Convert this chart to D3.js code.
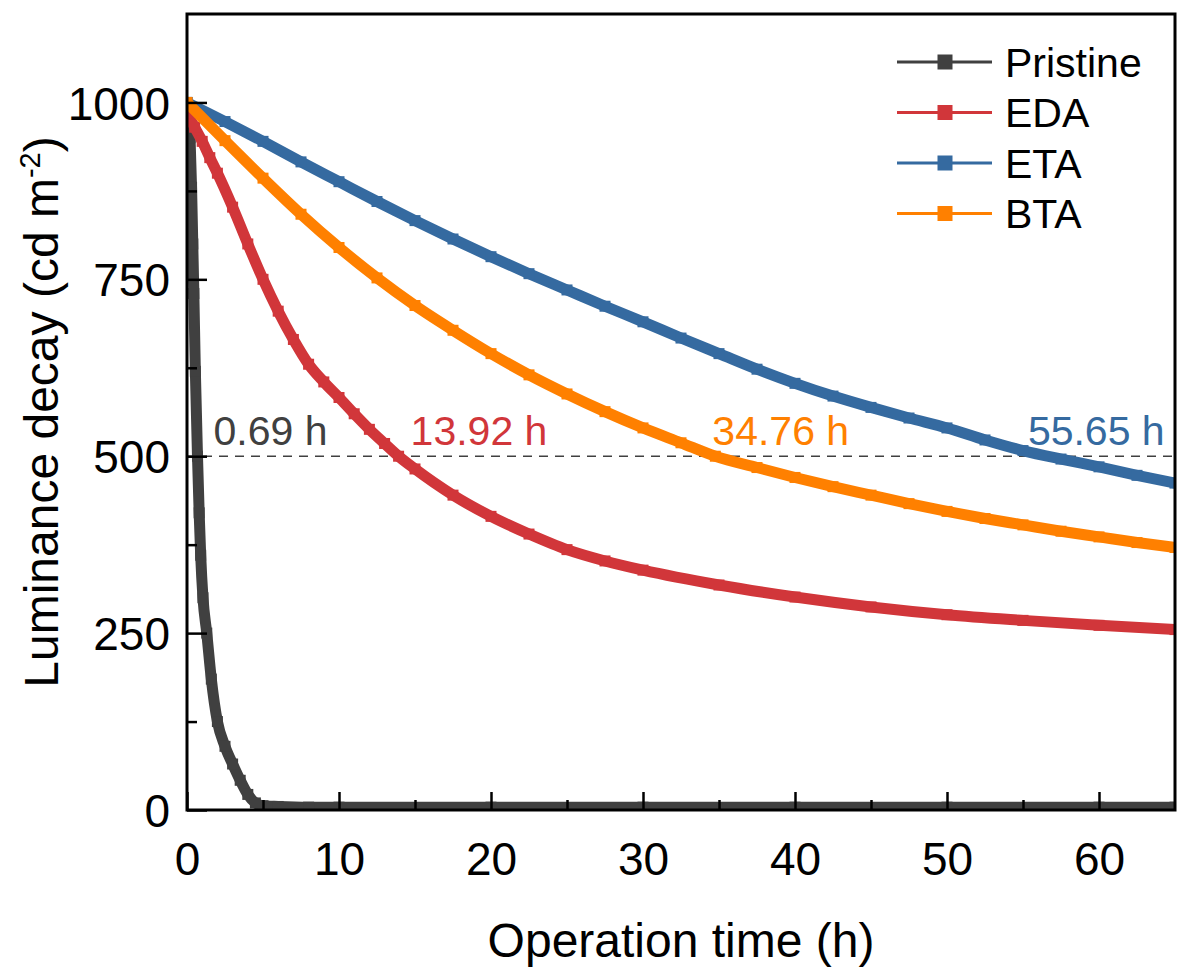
<!DOCTYPE html>
<html>
<head>
<meta charset="utf-8">
<script src="https://cdn.jsdelivr.net/npm/d3@7"></script>
<style>
  body { margin: 0; background: #fff; }
  text { font-family: Arial, "Liberation Sans", sans-serif; }
</style>
</head>
<body>
<div id="chart"></div>
<script>
// series data (time in h, luminance in cd m-2)
var pristineTime = [0, 0.2, 0.3, 0.38, 0.45, 0.55, 0.69, 0.8, 0.9, 1.05, 1.3, 1.6, 2.0, 2.5, 3.0, 3.5, 4.0, 4.5, 5, 6, 8, 10, 20, 30, 40, 50, 60, 65];
var pristineLum  = [1000, 950, 880, 800, 730, 620, 500, 420, 360, 300, 250, 185, 125, 90, 65, 42, 22, 10, 6, 5, 4, 4, 4, 4, 4, 4, 4, 4];

var edaTime = [0, 0.5, 1, 1.5, 2, 3, 4, 5, 6, 7, 8, 9, 10, 11, 12, 13, 13.92, 15, 17.5, 20, 22.5, 25, 27.5, 30, 35, 40, 45, 50, 55, 60, 65];
var edaLum  = [985, 965, 945, 922, 900, 852, 800, 750, 705, 665, 630, 605, 583, 560, 538, 518, 500, 482, 445, 415, 390, 368, 352, 339, 318, 301, 287, 276, 268, 261, 255];

var etaTime = [0, 2.5, 5, 7.5, 10, 12.5, 15, 17.5, 20, 22.5, 25, 27.5, 30, 32.5, 35, 37.5, 40, 42.5, 45, 47.5, 50, 52.5, 55, 57.5, 60, 62.5, 65];
var etaLum  = [1000, 973, 945, 916, 888, 860, 833, 807, 782, 758, 735, 712, 690, 667, 645, 623, 603, 585, 569, 554, 540, 523, 508, 496, 485, 473, 462];

var btaTime = [0, 2.5, 5, 7.5, 10, 12.5, 15, 17.5, 20, 22.5, 25, 27.5, 30, 32.5, 34.76, 37.5, 40, 42.5, 45, 47.5, 50, 52.5, 55, 57.5, 60, 62.5, 65];
var btaLum  = [1000, 946, 893, 842, 795, 752, 713, 678, 645, 615, 588, 563, 540, 519, 500, 484, 470, 457, 445, 433, 422, 412, 403, 394, 386, 378, 371];

var seriesNames = ["Pristine", "EDA", "ETA", "BTA"];
var seriesColors = ["#404040", "#d1363a", "#356aa0", "#ff8000"];

var halfLifeHours = [0.69, 13.92, 34.76, 55.65];
var halfLifeLabels = ["0.69 h", "13.92 h", "34.76 h", "55.65 h"];
var halfLifeColors = ["#404040", "#d1363a", "#ff8000", "#356aa0"];

var xTicks = [0, 10, 20, 30, 40, 50, 60];
var yTicks = [0, 250, 500, 750, 1000];

var width = 1177, height = 969;
var margin = { top: 14, right: 2, bottom: 159, left: 187 };
var plotW = width - margin.left - margin.right;
var plotH = height - margin.top - margin.bottom;

var svg = d3.select("#chart").append("svg")
    .attr("width", width)
    .attr("height", height);

var g = svg.append("g")
    .attr("transform", "translate(" + margin.left + "," + margin.top + ")");

var x = d3.scaleLinear().domain([0, 65]).range([0, plotW]);
var y = d3.scaleLinear().domain([0, 1125]).range([plotH, 0]);

g.append("clipPath").attr("id", "clip")
    .append("rect").attr("width", plotW).attr("height", plotH);

// dashed half-luminance line
g.append("line")
    .attr("x1", 0).attr("x2", plotW)
    .attr("y1", y(500)).attr("y2", y(500))
    .attr("stroke", "#404040")
    .attr("stroke-width", 1.6)
    .attr("stroke-dasharray", "9,7");

var series = [
    { name: "Pristine", t: pristineTime, v: pristineLum },
    { name: "EDA", t: edaTime, v: edaLum },
    { name: "ETA", t: etaTime, v: etaLum },
    { name: "BTA", t: btaTime, v: btaLum }
];

var line = d3.line()
    .x(function (d) { return x(d[0]); })
    .y(function (d) { return y(d[1]); })
    .curve(d3.curveMonotoneX);

var curves = g.append("g").attr("clip-path", "url(#clip)");

series.forEach(function (s, i) {
    var pts = s.t.map(function (t, j) { return [t, s.v[j]]; });
    curves.append("path")
        .datum(pts)
        .attr("d", line)
        .attr("fill", "none")
        .attr("stroke", seriesColors[i])
        .attr("stroke-width", 11)
        .attr("stroke-linejoin", "round");
    curves.selectAll(null)
        .data(pts)
        .enter()
        .append("rect")
        .attr("x", function (d) { return x(d[0]) - 5.5; })
        .attr("y", function (d) { return y(d[1]) - 5.5; })
        .attr("width", 11)
        .attr("height", 11)
        .attr("fill", seriesColors[i]);
});

// half-life labels
var labelDx = [16, 12, -3, -5];
g.selectAll(".hl")
    .data(halfLifeLabels)
    .enter()
    .append("text")
    .attr("x", function (d, i) { return x(halfLifeHours[i]) + labelDx[i]; })
    .attr("y", y(500) - 11)
    .attr("font-size", 41)
    .attr("fill", function (d, i) { return halfLifeColors[i]; })
    .text(function (d) { return d; });

// axes
var xAxis = g.append("g")
    .attr("transform", "translate(0," + plotH + ")")
    .call(d3.axisBottom(x).tickValues(xTicks).tickSize(-18).tickPadding(0).tickFormat(d3.format("d")));
xAxis.select(".domain").remove();
xAxis.selectAll(".tick line").attr("stroke", "#000").attr("stroke-width", 2.5);
xAxis.selectAll(".tick text")
    .attr("y", 65)
    .attr("dy", 0)
    .attr("font-size", 46)
    .attr("fill", "#000");

var xMinor = g.append("g")
    .attr("transform", "translate(0," + plotH + ")")
    .call(d3.axisBottom(x).tickValues(d3.range(5, 65, 10)).tickSize(-10).tickFormat(""));
xMinor.select(".domain").remove();
xMinor.selectAll(".tick line").attr("stroke", "#000").attr("stroke-width", 2.5);

var yAxis = g.append("g")
    .call(d3.axisLeft(y).tickValues(yTicks).tickSize(-20).tickPadding(17).tickFormat(d3.format("d")));
yAxis.select(".domain").remove();
yAxis.selectAll(".tick line").attr("stroke", "#000").attr("stroke-width", 2.5);
yAxis.selectAll(".tick text")
    .attr("font-size", 46)
    .attr("fill", "#000")
    .attr("dy", "0.36em");

var yMinor = g.append("g")
    .call(d3.axisLeft(y).tickValues([125, 375, 625, 875]).tickSize(-10).tickFormat(""));
yMinor.select(".domain").remove();
yMinor.selectAll(".tick line").attr("stroke", "#000").attr("stroke-width", 2.5);

// frame
g.append("rect")
    .attr("width", plotW)
    .attr("height", plotH)
    .attr("fill", "none")
    .attr("stroke", "#000")
    .attr("stroke-width", 3);

// axis titles
svg.append("text")
    .attr("x", margin.left + plotW / 2)
    .attr("y", 957)
    .attr("text-anchor", "middle")
    .attr("font-size", 48)
    .text("Operation time (h)");

var yTitle = svg.append("text")
    .attr("transform", "translate(58," + (margin.top + plotH / 2) + ") rotate(-90)")
    .attr("text-anchor", "middle")
    .attr("font-size", 48);
yTitle.append("tspan").text("Luminance decay (cd m");
yTitle.append("tspan").attr("font-size", 29).attr("dy", -18).text("-2");
yTitle.append("tspan").attr("dy", 18).text(")");

// legend
var legend = svg.append("g");
seriesNames.forEach(function (name, i) {
    var ly = 62 + i * 50.5;
    legend.append("line")
        .attr("x1", 897).attr("x2", 992)
        .attr("y1", ly).attr("y2", ly)
        .attr("stroke", seriesColors[i])
        .attr("stroke-width", 3);
    legend.append("rect")
        .attr("x", 945 - 7.5).attr("y", ly - 7.5)
        .attr("width", 15).attr("height", 15)
        .attr("fill", seriesColors[i]);
    legend.append("text")
        .attr("x", 1005)
        .attr("y", ly)
        .attr("dy", "0.36em")
        .attr("font-size", 41)
        .attr("fill", "#000")
        .text(name);
});
</script>
</body>
</html>
